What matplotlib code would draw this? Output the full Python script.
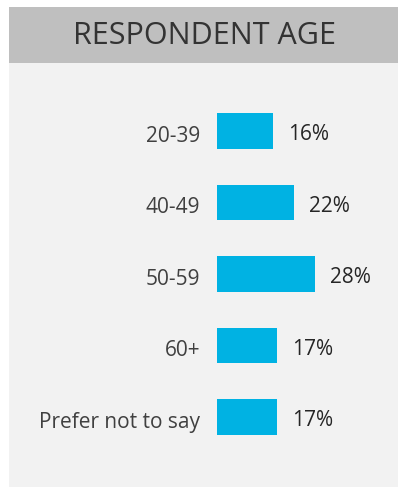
import matplotlib
matplotlib.use("Agg")
import matplotlib.pyplot as plt
from matplotlib.patches import Rectangle

categories = ["20-39", "40-49", "50-59", "60+", "Prefer not to say"]
values = [16, 22, 28, 17, 17]
value_labels = ["16%", "22%", "28%", "17%", "17%"]
title = "RESPONDENT AGE"

W, H = 398, 489
dpi = 100
fig = plt.figure(figsize=(W / dpi, H / dpi), dpi=dpi, facecolor="white")

def fx(px):
    return px / W

def fy(py):
    return 1 - py / H

# panel background
fig.patches.append(Rectangle((fx(9), fy(488)), fx(W) - fx(9), fy(64) - fy(488),
                             transform=fig.transFigure, facecolor="#F2F2F2",
                             edgecolor="none", zorder=-2))
# header
fig.patches.append(Rectangle((fx(9), fy(64)), fx(W) - fx(9), fy(8) - fy(64),
                             transform=fig.transFigure, facecolor="#BFBFBF",
                             edgecolor="none", zorder=-2))
fig.text(fx(205), fy(36), title, ha="center", va="center", fontsize=22,
         family="Open Sans", color="#333333")

# axes
left, right = 217, 217 + 105
top, bottom = 96.25, 96.25 + 357.5
ax = fig.add_axes([fx(left), fy(bottom), fx(right) - fx(left), fy(top) - fy(bottom)])
ax.set_facecolor("none")
ax.set_zorder(1)
y = list(range(len(categories)))
ax.barh(y, values, height=0.5, color="#00B2E3", edgecolor="none")
ax.set_xlim(0, 30)
ax.set_ylim(len(categories) - 0.5, -0.5)
ax.set_yticks([])
ax.set_xticks([])
for s in ax.spines.values():
    s.set_visible(False)
for yi, cat in zip(y, categories):
    ax.annotate(cat, (0, yi), xytext=(-12, -7.2), textcoords="offset points",
                ha="right", va="baseline", fontsize=15, family="Open Sans",
                color="#404040", annotation_clip=False)
for yi, v, lab in zip(y, values, value_labels):
    ax.annotate(lab, (v, yi), xytext=(11, -5.8), textcoords="offset points",
                ha="left", va="baseline", fontsize=15, family="Open Sans",
                color="#262626", annotation_clip=False)

fig.savefig("out.png", dpi=dpi, facecolor="white")
